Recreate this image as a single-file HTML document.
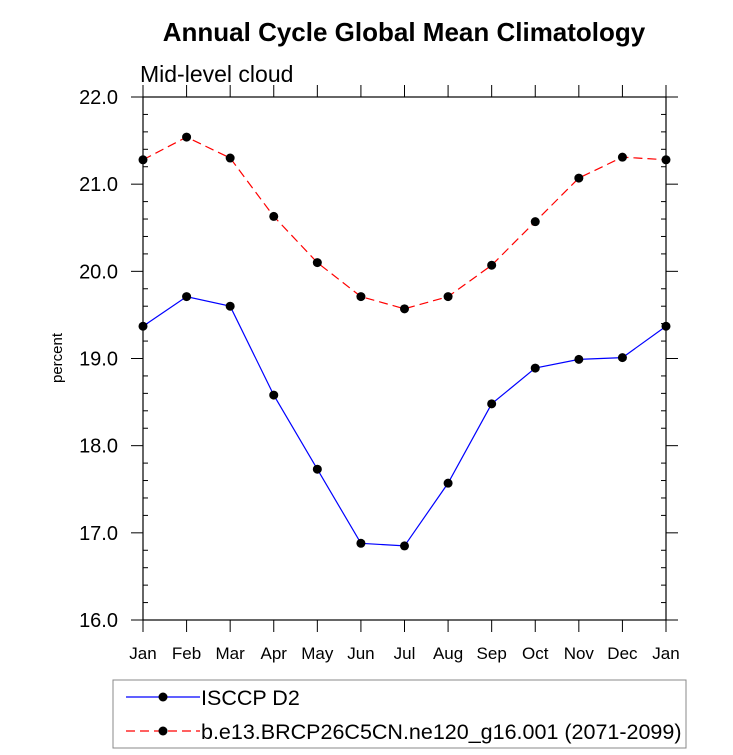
<!DOCTYPE html>
<html><head><meta charset="utf-8"><style>
html,body{margin:0;padding:0;background:#fff;}
svg{display:block;font-family:"Liberation Sans",Helvetica,Arial,sans-serif;}
</style></head><body>
<svg id="chart" width="733" height="755" viewBox="0 0 733 755">
<text x="404" y="41" text-anchor="middle" font-size="26" font-weight="bold">Annual Cycle Global Mean Climatology</text>
<text x="140" y="82" font-size="23">Mid-level cloud</text>
<text transform="translate(62,358) rotate(-90)" text-anchor="middle" font-size="15">percent</text>
<g id="axes"></g>
<g id="series"></g>
<g id="legend"></g>
</svg>
<script>
const months = ["Jan","Feb","Mar","Apr","May","Jun","Jul","Aug","Sep","Oct","Nov","Dec","Jan"];
const isccp = [19.37,19.71,19.60,18.58,17.73,16.88,16.85,17.57,18.48,18.89,18.99,19.01,19.37];
const model = [21.28,21.54,21.30,20.63,20.10,19.71,19.57,19.71,20.07,20.57,21.07,21.31,21.28];
const yTicks = [16,17,18,19,20,21,22];
const yTickLabels = ["16.0","17.0","18.0","19.0","20.0","21.0","22.0"];
const seriesNames = ["ISCCP D2","b.e13.BRCP26C5CN.ne120_g16.001 (2071-2099)"];

const NS="http://www.w3.org/2000/svg";
const L=143,R=666,T=97,B=620,ymin=16,ymax=22;
const xs=i=>L+(R-L)*i/(months.length-1);
const ys=v=>B-(B-T)*(v-ymin)/(ymax-ymin);
function mk(tag,attrs,parent){const e=document.createElementNS(NS,tag);for(const k in attrs)e.setAttribute(k,attrs[k]);parent.appendChild(e);return e;}
const ax=document.getElementById('axes');
const frame=mk('rect',{x:L,y:T,width:R-L,height:B-T,fill:'none',stroke:'#000','stroke-width':1.2},ax);


for(let v=ymin;v<=ymax+1e-9;v+=0.2){
  const y=ys(v);const major=Math.abs(v-Math.round(v))<1e-6;
  if(major)continue;
  mk('line',{x1:L,x2:L+5,y1:y,y2:y,stroke:'#000'},ax);
  mk('line',{x1:R,x2:R-5,y1:y,y2:y,stroke:'#000'},ax);
}
yTicks.forEach((v,i)=>{
  const y=ys(v);
  mk('line',{x1:L-12,x2:L,y1:y,y2:y,stroke:'#000'},ax);
  mk('line',{x1:R,x2:R+12,y1:y,y2:y,stroke:'#000'},ax);
  const t=mk('text',{x:118,y:y+7,'text-anchor':'end','font-size':20},ax);t.textContent=yTickLabels[i];
  
  
});
months.forEach((m,i)=>{
  const x=xs(i);
  mk('line',{x1:x,x2:x,y1:B,y2:B+12,stroke:'#000'},ax);
  mk('line',{x1:x,x2:x,y1:T,y2:T-12,stroke:'#000'},ax);
  const t=mk('text',{x:x,y:B+39,'text-anchor':'middle','font-size':17},ax);t.textContent=m;
  
  
});
const sg=document.getElementById('series');
function drawSeries(vals,color,dash,name){
  const g=mk('g',{},sg);
  
  
  mk('polyline',{points:vals.map((v,i)=>xs(i)+','+ys(v)).join(' '),fill:'none',stroke:color,'stroke-width':1.2,'stroke-dasharray':dash},g);
  vals.forEach((v,i)=>{const c=mk('circle',{cx:xs(i),cy:ys(v),r:4.5,fill:'#000'},g);
    
    });
}
drawSeries(isccp,'#0000ff','none','isccp-series');
drawSeries(model,'#ff0000','9,5','model-series');
const lg=document.getElementById('legend');


mk('rect',{x:113,y:680,width:573,height:68,fill:'none',stroke:'#888','stroke-width':1},lg);
[[697,'#0000ff','none'],[731,'#ff0000','9,5']].forEach((r,i)=>{
  mk('line',{x1:126,x2:200,y1:r[0],y2:r[0],stroke:r[1],'stroke-width':1.2,'stroke-dasharray':r[2]},lg);
  mk('circle',{cx:163,cy:r[0],r:4.5,fill:'#000'},lg);
  const t=mk('text',{x:201,y:r[0]+8,'font-size':21.5},lg);t.textContent=seriesNames[i];
  
  
});
</script>
</body></html>
